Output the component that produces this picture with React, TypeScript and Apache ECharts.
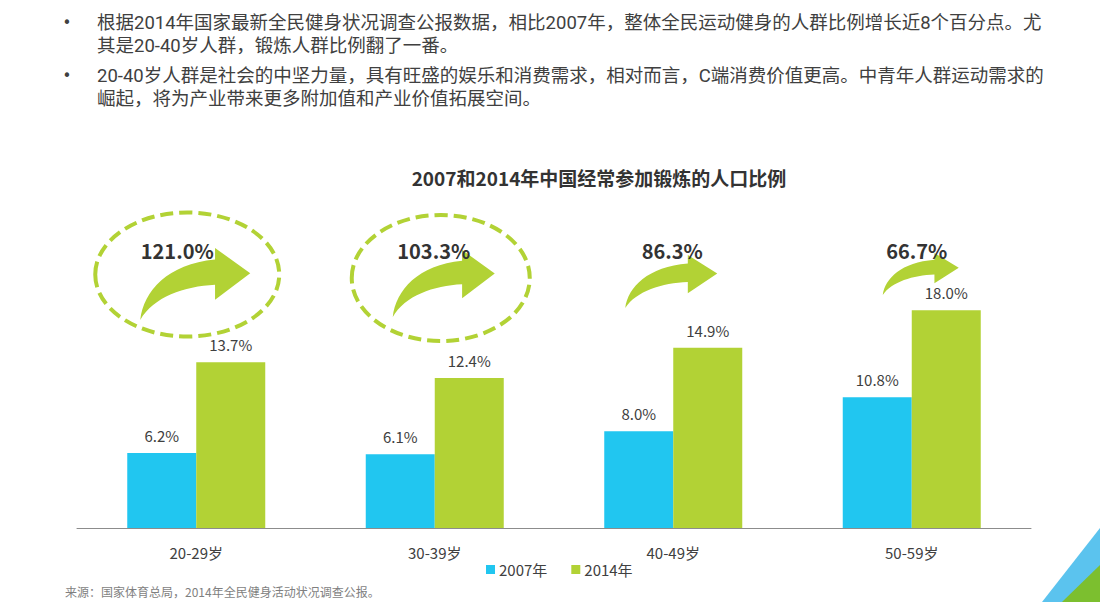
import React, { useEffect, useRef } from "react";
import * as echarts from "echarts";

const categories = ["20-29岁", "30-39岁", "40-49岁", "50-59岁"];
const seriesNames = ["2007年", "2014年"];
const values2007 = [6.2, 6.1, 8.0, 10.8];
const values2014 = [13.7, 12.4, 14.9, 18.0];
const growthLabels = ["121.0%", "103.3%", "86.3%", "66.7%"];
const chartTitle = "2007和2014年中国经常参加锻炼的人口比例";
const bulletParagraphs = [
  [
    "根据2014年国家最新全民健身状况调查公报数据，相比2007年，整体全民运动健身的人群比例增长近8个百分点。尤",
    "其是20-40岁人群，锻炼人群比例翻了一番。",
  ],
  [
    "20-40岁人群是社会的中坚力量，具有旺盛的娱乐和消费需求，相对而言，C端消费价值更高。中青年人群运动需求的",
    "崛起，将为产业带来更多附加值和产业价值拓展空间。",
  ],
];
const sourceText = "来源：国家体育总局，2014年全民健身活动状况调查公报。";

const BLUE = "#21c6f0";
const GREEN = "#b2d235";
const FONT = '"Noto Sans CJK SC", "Microsoft YaHei", sans-serif';
const BODY_FONT = 'Roboto, "Noto Sans CJK SC", sans-serif';

const GRID_LEFT = 77;
const GRID_WIDTH = 954;
const GRID_BOTTOM_Y = 528;
const Y_MAX = 25;
const GRID_HEIGHT = 302.5;

// decoration layout per category (offsets from category center)
const arrowLayout = [
  { dx: -56, y: 248, w: 110, h: 72 },
  { dx: -42, y: 250, w: 102, h: 67 },
  { dx: -48, y: 255, w: 92, h: 53 },
  { dx: -29, y: 253, w: 76, h: 42 },
];
const growthTextLayout = [
  { dx: -19, y: 250 },
  { dx: -1, y: 250 },
  { dx: -1, y: 250 },
  { dx: 5, y: 250 },
];
const ellipseLayout = [
  { idx: 0, dx: -9, cy: 274.5, rx: 92, ry: 62 },
  { idx: 1, dx: 6, cy: 278, rx: 89, ry: 63 },
];

const ARROW_PATH =
  "M0 100 C3 60 25 22 68 16 L68 0 L100 35 L68 72 L68 51 C40 53 12 68 0 100 Z";

let registered = false;
function ensureShape() {
  if (registered) return;
  echarts.graphic.registerShape(
    "curveArrow",
    (echarts.graphic as any).extendPath(ARROW_PATH, {})
  );
  registered = true;
}

function catCenter(i: number) {
  return GRID_LEFT + ((i + 0.5) * GRID_WIDTH) / categories.length;
}

export default function App() {
  const ref = useRef<HTMLDivElement>(null);

  useEffect(() => {
    if (!ref.current) return;
    ensureShape();
    const chart = echarts.init(ref.current, undefined, { renderer: "svg" });

    const graphics: any[] = [];

    // bullet text
    const lineYs = [[23, 46], [76, 99]];
    bulletParagraphs.forEach((para, p) => {
      graphics.push({
        type: "text",
        x: 67,
        y: lineYs[p][0],
        style: {
          text: "•",
          fill: "#404040",
          font: `15px "DejaVu Sans", sans-serif`,
          textAlign: "center",
          textVerticalAlign: "middle",
        },
      });
      para.forEach((line, l) => {
        graphics.push({
          type: "text",
          x: 97,
          y: lineYs[p][l],
          style: {
            text: line,
            fill: "#404040",
            font: `18.5px ${BODY_FONT}`,
            textAlign: "left",
            textVerticalAlign: "middle",
          },
        });
      });
    });

    // dashed ellipses
    ellipseLayout.forEach((e) => {
      graphics.push({
        type: "ellipse",
        shape: { cx: catCenter(e.idx) + e.dx, cy: e.cy, rx: e.rx, ry: e.ry },
        style: {
          fill: "none",
          stroke: GREEN,
          lineWidth: 4,
          lineDash: [13, 6],
        },
        z: 10,
      });
    });

    // arrows
    arrowLayout.forEach((a, i) => {
      graphics.push({
        type: "curveArrow",
        x: catCenter(i) + a.dx,
        y: a.y,
        scaleX: a.w / 100,
        scaleY: a.h / 100,
        style: { fill: GREEN },
        z: 11,
      });
    });

    // growth labels
    growthLabels.forEach((t, i) => {
      graphics.push({
        type: "text",
        x: catCenter(i) + growthTextLayout[i].dx,
        y: growthTextLayout[i].y,
        style: {
          text: t,
          fill: "#333333",
          font: `bold 20px ${FONT}`,
          textAlign: "center",
          textVerticalAlign: "middle",
        },
        z: 12,
      });
    });

    // source
    graphics.push({
      type: "text",
      x: 65,
      y: 591,
      style: {
        text: sourceText,
        fill: "#7f7f7f",
        font: `12px ${FONT}`,
        textAlign: "left",
        textVerticalAlign: "middle",
      },
    });

    // corner decoration
    graphics.push({
      type: "polygon",
      shape: { points: [[1100, 528], [1042, 602], [1100, 602]] },
      style: { fill: "#5bc3ee" },
    });
    graphics.push({
      type: "polygon",
      shape: { points: [[1100, 565], [1062, 602], [1100, 602]] },
      style: { fill: "#7cbf2f" },
    });

    const labelOpt = {
      show: true,
      position: "top",
      distance: 10,
      formatter: (p: any) => `${p.value.toFixed(1)}%`,
      fontFamily: FONT,
      fontSize: 15,
      color: "#404040",
    };

    chart.setOption({
      animation: false,
      backgroundColor: "#ffffff",
      title: {
        text: chartTitle,
        left: 594,
        top: 163,
        textAlign: "center",
        textStyle: {
          fontFamily: FONT,
          fontSize: 19,
          fontWeight: "bold",
          color: "#333333",
        },
      },
      legend: {
        data: seriesNames,
        left: 486,
        top: 562,
        padding: 0,
        itemWidth: 9,
        itemHeight: 9,
        itemGap: 24,
        icon: "rect",
        textStyle: {
          fontFamily: FONT,
          fontSize: 15,
          color: "#404040",
          padding: [0, 0, 0, -1],
        },
      },
      grid: {
        left: GRID_LEFT,
        width: GRID_WIDTH,
        top: GRID_BOTTOM_Y - GRID_HEIGHT,
        height: GRID_HEIGHT,
        containLabel: false,
      },
      xAxis: {
        type: "category",
        data: categories,
        axisLine: { lineStyle: { color: "#8c8c8c", width: 1 } },
        axisTick: { show: false },
        axisLabel: {
          margin: 17,
          fontFamily: FONT,
          fontSize: 15,
          color: "#404040",
        },
      },
      yAxis: {
        type: "value",
        min: 0,
        max: Y_MAX,
        show: false,
        splitLine: { show: false },
      },
      series: [
        {
          name: seriesNames[0],
          type: "bar",
          data: values2007,
          barWidth: 69,
          barGap: "0%",
          itemStyle: { color: BLUE },
          label: labelOpt,
        },
        {
          name: seriesNames[1],
          type: "bar",
          data: values2014,
          barWidth: 69,
          barGap: "0%",
          itemStyle: { color: GREEN },
          label: labelOpt,
        },
      ],
      graphic: graphics,
    });

    return () => chart.dispose();
  }, []);

  return (
    <div
      style={{
        position: "fixed",
        left: 0,
        top: 0,
        width: 1100,
        height: 602,
        background: "#ffffff",
      }}
    >
      <div ref={ref} style={{ width: 1100, height: 602 }} />
    </div>
  );
}
